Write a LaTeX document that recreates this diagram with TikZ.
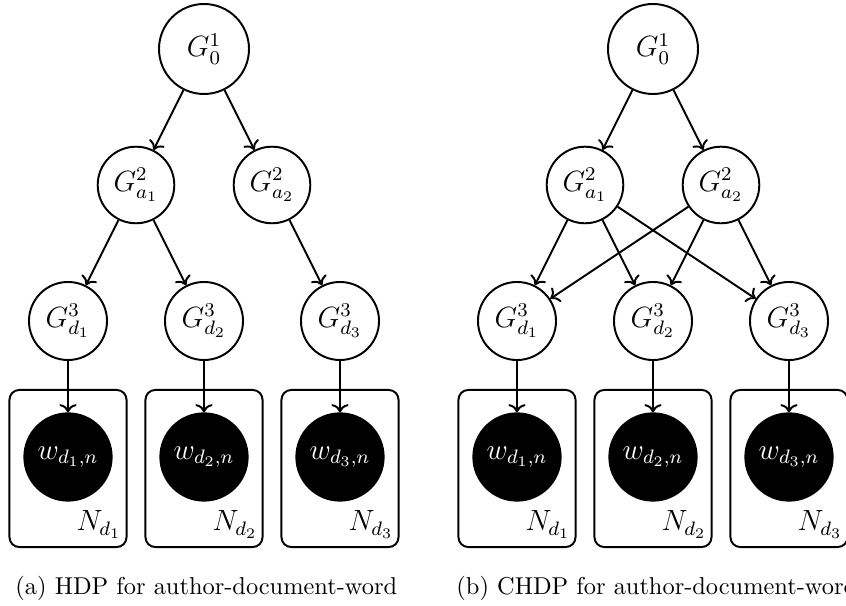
\documentclass[tikz,border=0pt]{standalone}
\usetikzlibrary{arrows.meta}
\begin{document}
\begin{tikzpicture}[x=0.41pt,y=-0.41pt,
  topnode/.style={circle,draw,line width=0.8pt,minimum size=36.9pt,inner sep=0pt,font=\fontsize{12}{14}\selectfont},
  midnode/.style={circle,draw,line width=0.8pt,minimum size=31.4pt,inner sep=0pt,font=\fontsize{12}{14}\selectfont},
  docnode/.style={circle,draw,line width=0.8pt,minimum size=32pt,inner sep=0pt,font=\fontsize{12}{14}\selectfont},
  wordnode/.style={circle,draw,fill=black,text=white,line width=0.8pt,minimum size=35.8pt,inner sep=0pt,font=\fontsize{12}{14}\selectfont},
  plate/.style={draw,rounded corners=4pt,line width=0.8pt,minimum width=48pt,minimum height=64.4pt,inner sep=0pt},
  plabel/.style={anchor=base east,inner sep=0pt,font=\fontsize{11.5}{13}\selectfont},
  arr/.style={->,line width=0.8pt},
  captext/.style={anchor=base west,inner sep=0pt}]
\useasboundingbox (0,0) rectangle (846,606);
\clip (0,0) rectangle (846,606);
% ---------- (a) ----------
\node[topnode] (A0) at (204,49) {$G^1_0$};
\node[midnode] (Aa1) at (136,185) {$G^2_{a_1}$};
\node[midnode] (Aa2) at (272,185) {$G^2_{a_2}$};
\node[docnode] (Ad1) at (68,321) {$G^3_{d_1}$};
\node[docnode] (Ad2) at (204,321) {$G^3_{d_2}$};
\node[docnode] (Ad3) at (340,321) {$G^3_{d_3}$};
\node[plate] (Ap1) at (68,468.5) {};
\node[plate] (Ap2) at (204,468.5) {};
\node[plate] (Ap3) at (340,468.5) {};
\node[wordnode] (Aw1) at (68,457) {$w_{d_1,n}$};
\node[wordnode] (Aw2) at (204,457) {$w_{d_2,n}$};
\node[wordnode] (Aw3) at (340,457) {$w_{d_3,n}$};
\node[plabel] (An1) at (122,531) {$N_{d_1}$};
\node[plabel] (An2) at (258,531) {$N_{d_2}$};
\node[plabel] (An3) at (394,531) {$N_{d_3}$};
\draw[arr] (A0) -- (Aa1);
\draw[arr] (A0) -- (Aa2);
\draw[arr] (Aa1) -- (Ad1);
\draw[arr] (Aa1) -- (Ad2);
\draw[arr] (Aa2) -- (Ad3);
\draw[arr] (Ad1) -- (Aw1);
\draw[arr] (Ad2) -- (Aw2);
\draw[arr] (Ad3) -- (Aw3);
\node[captext] (Acap) at (15,595) {(a) HDP for author-document-word};
% ---------- (b) ----------
\node[topnode] (B0) at (653,49) {$G^1_0$};
\node[midnode] (Ba1) at (585,185) {$G^2_{a_1}$};
\node[midnode] (Ba2) at (721,185) {$G^2_{a_2}$};
\node[docnode] (Bd1) at (517,321) {$G^3_{d_1}$};
\node[docnode] (Bd2) at (653,321) {$G^3_{d_2}$};
\node[docnode] (Bd3) at (789,321) {$G^3_{d_3}$};
\node[plate] (Bp1) at (517,468.5) {};
\node[plate] (Bp2) at (653,468.5) {};
\node[plate] (Bp3) at (789,468.5) {};
\node[wordnode] (Bw1) at (517,457) {$w_{d_1,n}$};
\node[wordnode] (Bw2) at (653,457) {$w_{d_2,n}$};
\node[wordnode] (Bw3) at (789,457) {$w_{d_3,n}$};
\node[plabel] (Bn1) at (571,531) {$N_{d_1}$};
\node[plabel] (Bn2) at (707,531) {$N_{d_2}$};
\node[plabel] (Bn3) at (843,531) {$N_{d_3}$};
\draw[arr] (B0) -- (Ba1);
\draw[arr] (B0) -- (Ba2);
\draw[arr] (Ba1) -- (Bd1);
\draw[arr] (Ba1) -- (Bd2);
\draw[arr] (Ba1) -- (Bd3);
\draw[arr] (Ba2) -- (Bd1);
\draw[arr] (Ba2) -- (Bd2);
\draw[arr] (Ba2) -- (Bd3);
\draw[arr] (Bd1) -- (Bw1);
\draw[arr] (Bd2) -- (Bw2);
\draw[arr] (Bd3) -- (Bw3);
\node[captext] (Bcap) at (456,595) {(b) CHDP for author-document-word};
\end{tikzpicture}
\end{document}
